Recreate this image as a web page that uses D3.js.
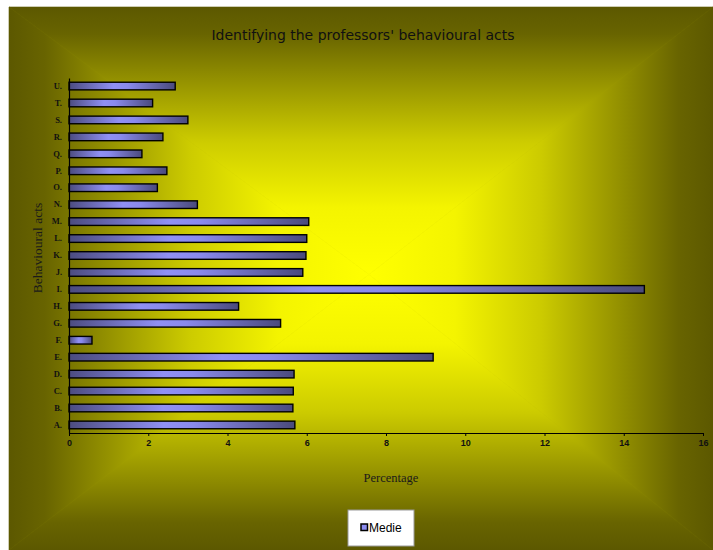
<!DOCTYPE html>
<html>
<head>
<meta charset="utf-8">
<script src="https://cdn.jsdelivr.net/npm/d3@7"></script>
<style>
  html, body { margin: 0; padding: 0; background: #fff; }
  svg { display: block; }
</style>
</head>
<body>
<svg id="chart" width="713" height="550"></svg>
<script>
const categories = ["A.", "B.", "C.", "D.", "E.", "F.", "G.", "H.", "I.", "J.", "K.", "L.", "M.", "N.", "O.", "P.", "Q.", "R.", "S.", "T.", "U."];
const values = [5.70, 5.65, 5.66, 5.68, 9.19, 0.58, 5.34, 4.28, 14.52, 5.90, 5.98, 6.00, 6.05, 3.24, 2.23, 2.47, 1.84, 2.37, 3.00, 2.11, 2.68];
const xTicks = [0, 2, 4, 6, 8, 10, 12, 14, 16];
const seriesName = "Medie";
const titleText = "Identifying the professors' behavioural acts";
const xTitle = "Percentage";
const yTitle = "Behavioural acts";

const W = 713, H = 550;
const svg = d3.select("#chart");
const defs = svg.append("defs");

// Background: rectangular "from centre" gradient built from four triangles
const bg = { x: 9, y: 7, w: W - 9, h: H - 7 };
const cx = bg.x + bg.w / 2 + 8, cy = bg.y + bg.h / 2 - 4;
const rampStops = [
  [0, "#5c5800"], [0.1, "#686400"], [0.25, "#8e8b00"], [0.5, "#cccb00"], [0.75, "#f4f400"], [1, "#ffff00"]
];
const sides = [
  { id: "gT", x1: cx, y1: bg.y, x2: cx, y2: cy, pts: [[bg.x, bg.y], [bg.x + bg.w, bg.y], [cx, cy]] },
  { id: "gB", x1: cx, y1: bg.y + bg.h, x2: cx, y2: cy, pts: [[bg.x, bg.y + bg.h], [bg.x + bg.w, bg.y + bg.h], [cx, cy]] },
  { id: "gL", x1: bg.x, y1: cy, x2: cx, y2: cy, pts: [[bg.x, bg.y], [bg.x, bg.y + bg.h], [cx, cy]] },
  { id: "gR", x1: bg.x + bg.w, y1: cy, x2: cx, y2: cy, pts: [[bg.x + bg.w, bg.y], [bg.x + bg.w, bg.y + bg.h], [cx, cy]] }
];
sides.forEach(s => {
  const g = defs.append("linearGradient").attr("id", s.id)
    .attr("gradientUnits", "userSpaceOnUse")
    .attr("x1", s.x1).attr("y1", s.y1).attr("x2", s.x2).attr("y2", s.y2);
  rampStops.forEach(([o, c]) => g.append("stop").attr("offset", o).attr("stop-color", c));
});
svg.append("rect").attr("x", bg.x).attr("y", bg.y).attr("width", bg.w).attr("height", bg.h).attr("fill", "#a3a100");
svg.selectAll("polygon.bgtri").data(sides).join("polygon")
  .attr("class", "bgtri")
  .attr("points", d => d.pts.map(p => p.join(",")).join(" "))
  .attr("fill", d => `url(#${d.id})`)
  .attr("stroke", d => `url(#${d.id})`)
  .attr("stroke-width", 0.6);

// Bar gradient
const bgr = defs.append("linearGradient").attr("id", "barGrad")
  .attr("x1", 0).attr("y1", 0).attr("x2", 1).attr("y2", 0);
[[0, "#4c4c80"], [0.42, "#9090f4"], [0.55, "#8a8aec"], [1, "#4a4a7c"]]
  .forEach(([o, c]) => bgr.append("stop").attr("offset", o).attr("stop-color", c));

// Scales
const x = d3.scaleLinear().domain([0, 16]).range([69, 703]);
const y = d3.scaleBand().domain(categories.slice().reverse()).range([78, 433])
  .paddingInner(0.55).paddingOuter(0.25);

// Bars
svg.append("g").selectAll("rect").data(categories).join("rect")
  .attr("x", x(0))
  .attr("y", d => y(d))
  .attr("width", (d, i) => x(values[i]) - x(0))
  .attr("height", y.bandwidth())
  .attr("fill", "url(#barGrad)")
  .attr("stroke", "#000")
  .attr("stroke-width", 1.4);

// Y axis
const yAxis = svg.append("g").attr("transform", `translate(${x(0)},0)`)
  .call(d3.axisLeft(y).tickSize(0).tickPadding(7));
yAxis.select(".domain").attr("stroke", "#000").attr("stroke-width", 1.2);
yAxis.selectAll("text")
  .attr("font-family", "'Liberation Serif', 'Times New Roman', serif")
  .attr("font-weight", "bold")
  .attr("font-size", 8.5)
  .attr("fill", "#111");

// X axis
const xAxis = svg.append("g").attr("transform", `translate(0,433)`)
  .call(d3.axisBottom(x).tickValues(xTicks).tickFormat(d3.format("d")).tickSize(3).tickSizeOuter(0).tickPadding(4));
xAxis.select(".domain").attr("stroke", "#000").attr("stroke-width", 1.2);
xAxis.selectAll(".tick line").attr("stroke", "#000");
xAxis.selectAll("text")
  .attr("font-family", "'Liberation Sans', Arial, sans-serif")
  .attr("font-weight", "bold")
  .attr("font-size", 9)
  .attr("fill", "#111");

// Title
svg.append("text")
  .attr("x", 363).attr("y", 40)
  .attr("text-anchor", "middle")
  .attr("font-family", "'DejaVu Sans', Verdana, sans-serif")
  .attr("font-size", 13.5)
  .attr("textLength", 303).attr("lengthAdjust", "spacingAndGlyphs")
  .attr("fill", "#111")
  .text(titleText);

// Axis titles
svg.append("text")
  .attr("transform", "translate(42,248) rotate(-90)")
  .attr("text-anchor", "middle")
  .attr("font-family", "'Liberation Serif', 'Times New Roman', serif")
  .attr("font-size", 13.5)
  .attr("fill", "#1a1a1a")
  .text(yTitle);

svg.append("text")
  .attr("x", 391).attr("y", 482)
  .attr("text-anchor", "middle")
  .attr("font-family", "'Liberation Serif', 'Times New Roman', serif")
  .attr("font-size", 12.5)
  .attr("fill", "#1a1a1a")
  .text(xTitle);

// Legend
const lg = svg.append("g");
lg.append("rect").attr("x", 348).attr("y", 510).attr("width", 66).attr("height", 36)
  .attr("fill", "#fff").attr("stroke", "#999").attr("stroke-width", 1);
lg.append("rect").attr("x", 361).attr("y", 524).attr("width", 6.5).attr("height", 6.5)
  .attr("fill", "#8c8cf0").attr("stroke", "#000").attr("stroke-width", 1.5);
lg.append("text").attr("x", 369).attr("y", 532)
  .attr("font-family", "'Liberation Sans', Arial, sans-serif")
  .attr("font-size", 12)
  .attr("fill", "#000")
  .text(seriesName);
</script>
</body>
</html>
